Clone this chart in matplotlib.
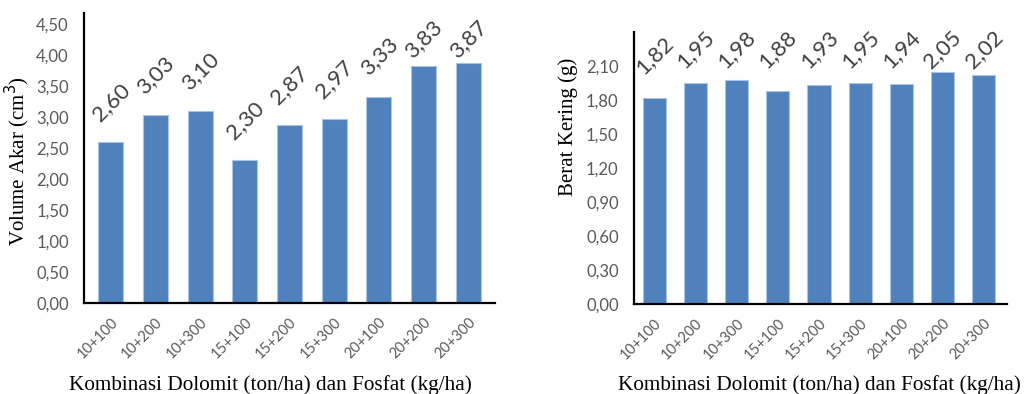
import matplotlib
matplotlib.use("Agg")
import matplotlib.pyplot as plt

# Treatment combinations (dolomite ton/ha + phosphate kg/ha)
categories = ["10+100", "10+200", "10+300", "15+100", "15+200",
              "15+300", "20+100", "20+200", "20+300"]

# Root volume (cm3)
root_volume = [2.60, 3.03, 3.10, 2.30, 2.87, 2.97, 3.33, 3.83, 3.87]
# Dry weight (g)
dry_weight = [1.82, 1.95, 1.98, 1.88, 1.93, 1.95, 1.94, 2.05, 2.02]

vol_ticks = [0.0, 0.5, 1.0, 1.5, 2.0, 2.5, 3.0, 3.5, 4.0, 4.5]
wt_ticks = [0.0, 0.3, 0.6, 0.9, 1.2, 1.5, 1.8, 2.1]

xlabel_text = "Kombinasi Dolomit (ton/ha) dan Fosfat (kg/ha)"

BAR = "#4F81BD"
EDGE = "#A9C4E4"
TICK_GRAY = "#595959"
LABEL_DARK = "#404040"
SANS = ["Lato", "DejaVu Sans"]
SERIF = ["Liberation Serif", "DejaVu Serif"]

fig = plt.figure(figsize=(10.26, 3.94), dpi=100)
ax1 = fig.add_axes([0.0819, 0.2310, 0.4006, 0.736])
ax2 = fig.add_axes([0.6179, 0.2284, 0.3635, 0.690])


def comma(v):
    return f"{v:.2f}".replace(".", ",")


def draw(ax, values, ticks, ylim, xlim, width, off, cap, ylabel,
         ylabel_xy, xlabel_xy):
    x = list(range(len(categories)))
    ax.bar(x, values, width=width, color=BAR, edgecolor=EDGE,
           linewidth=0.8, zorder=2)
    ax.set_xlim(*xlim)
    ax.set_ylim(*ylim)
    ax.set_yticks(ticks)
    ax.set_yticklabels([comma(t) for t in ticks], fontsize=12,
                       color=TICK_GRAY, family=SANS)
    ax.set_xticks(x)
    ax.set_xticklabels(categories, rotation=45, ha="right",
                       rotation_mode="anchor", fontsize=10.5,
                       color=TICK_GRAY, family=SANS)
    ax.tick_params(axis="y", length=0, pad=11)
    ax.tick_params(axis="x", length=0, pad=9)
    for s in ("top", "right"):
        ax.spines[s].set_visible(False)
    for s in ("left", "bottom"):
        ax.spines[s].set_linewidth(1.6)
        ax.spines[s].set_color("black")
    for xi, v in zip(x, values):
        ax.text(xi, min(v + off, cap), comma(v), rotation=45,
                ha="center", va="center", fontsize=16,
                color=LABEL_DARK, family=SANS, zorder=3)
    ax.set_ylabel(ylabel, fontsize=15, family=SERIF, color="black")
    ax.yaxis.set_label_coords(*ylabel_xy)
    ax.set_xlabel(xlabel_text, fontsize=15.3, family=SERIF, color="black")
    ax.xaxis.set_label_coords(*xlabel_xy)


draw(ax1, root_volume, vol_ticks, (0, 4.68), (-0.6, 8.6), 0.56,
     0.645, 4.26, "Volume Akar (cm$^3$)", (-0.127, 0.49), (0.4526, -0.25))
draw(ax2, dry_weight, wt_ticks, (0, 2.4), (-0.49, 8.56), 0.56,
     0.38, 2.25, "Berat Kering (g)", (-0.150, 0.65), (0.496, -0.263))

fig.savefig("out.png", dpi=100, facecolor="white")
